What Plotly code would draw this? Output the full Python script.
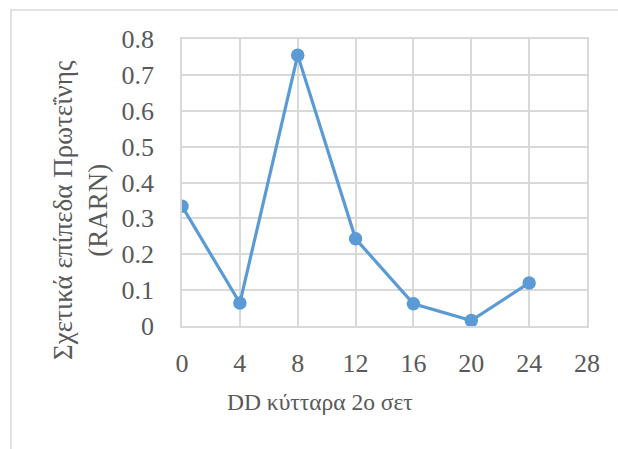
import plotly.graph_objects as go

# Time points (hours) and relative protein levels
hours = [0, 4, 8, 12, 16, 20, 24]
levels = [0.334, 0.064, 0.755, 0.243, 0.062, 0.015, 0.120]

x_ticks = [0, 4, 8, 12, 16, 20, 24, 28]
y_ticks = [0, 0.1, 0.2, 0.3, 0.4, 0.5, 0.6, 0.7, 0.8]
y_tick_text = ["0", "0.1", "0.2", "0.3", "0.4", "0.5", "0.6", "0.7", "0.8"]

x_title = "DD κύτταρα 2ο σετ"
y_title = "Σχετικά επίπεδα Πρωτεΐνης<br>(RARN)"

W, H = 618, 449
L, R, T, B = 182, 31, 39, 123
pw, ph = W - L - R, H - T - B


def px_x(px):
    return (px - L) / pw


def px_y(py):
    return (H - B - py) / ph


font_family = "Liberation Serif"
text_color = "#595959"
grid_color = "#d9d9d9"

fig = go.Figure(
    go.Scatter(
        x=hours,
        y=levels,
        mode="lines+markers",
        line=dict(color="#5b9bd5", width=3.2),
        marker=dict(color="#5b9bd5", size=13.5),
    )
)

fig.update_layout(
    width=W,
    height=H,
    margin=dict(l=L, r=R, t=T, b=B, pad=0),
    paper_bgcolor="white",
    plot_bgcolor="white",
    showlegend=False,
    font=dict(family=font_family, size=26, color=text_color),
    xaxis=dict(
        range=[0, 28],
        tickvals=x_ticks,
        ticktext=[str(v) for v in x_ticks],
        tickfont=dict(family=font_family, size=26, color=text_color),
        showgrid=True,
        gridcolor=grid_color,
        gridwidth=1.5,
        zeroline=False,
        showline=True,
        mirror=True,
        linecolor=grid_color,
        linewidth=1.5,
        ticks="",
        ticklabelstandoff=13,
        fixedrange=True,
    ),
    yaxis=dict(
        range=[0, 0.8],
        tickvals=y_ticks,
        ticktext=y_tick_text,
        tickfont=dict(family=font_family, size=26, color=text_color),
        showgrid=True,
        gridcolor=grid_color,
        gridwidth=1.5,
        zeroline=False,
        showline=True,
        mirror=True,
        linecolor=grid_color,
        linewidth=1.5,
        ticks="",
        ticklabelstandoff=21,
        fixedrange=True,
    ),
    annotations=[
        dict(
            text=x_title,
            xref="paper",
            yref="paper",
            x=px_x(320),
            y=px_y(402),
            xanchor="center",
            yanchor="middle",
            showarrow=False,
            font=dict(size=23.5, color=text_color, family=font_family),
        ),
        dict(
            text=y_title,
            xref="paper",
            yref="paper",
            x=px_x(80),
            y=px_y(210),
            xanchor="center",
            yanchor="middle",
            textangle=-90,
            showarrow=False,
            font=dict(size=27, color=text_color, family=font_family),
        ),
    ],
    shapes=[
        dict(
            type="rect",
            xref="paper",
            yref="paper",
            x0=px_x(11),
            x1=px_x(640),
            y0=px_y(470),
            y1=px_y(10),
            line=dict(color="#d9d9d9", width=1.5),
            fillcolor="rgba(0,0,0,0)",
            layer="below",
        )
    ],
)

fig.write_html("out.html")
